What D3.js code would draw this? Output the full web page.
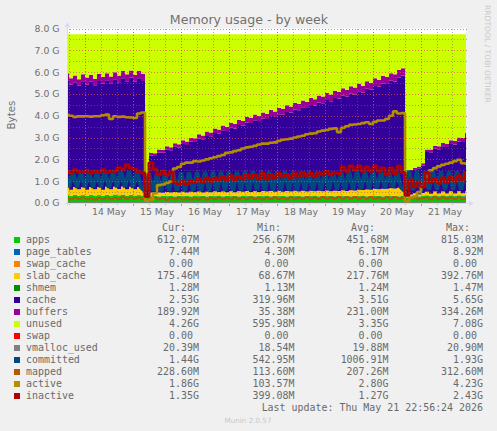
<!DOCTYPE html>
<html><head><meta charset="utf-8">
<script src="https://cdnjs.cloudflare.com/ajax/libs/d3/7.8.5/d3.min.js"></script>
<style>
html,body{margin:0;padding:0;background:#f0f0f0;overflow:hidden}
svg{display:block}
text{font-family:"DejaVu Sans",sans-serif}
.mono{font-family:"DejaVu Sans Mono",monospace;font-size:9.95px;fill:#6a6a6a}
.tick text{font-family:"DejaVu Sans",sans-serif;font-size:9.3px;fill:#6e6e6e}
</style></head><body>
<script>
// sample clock: one reading every 2 hours
const firstSample = Date.UTC(2026,4,13,14,15);
const sampleHours = 2;
const apps = [
.36,.33,.37,.34,.36,.33,.37,.34,.36,.33,
.37,.34,.38,.35,.38,.34,.37,.34,.36,.34,
.26,.31,.33,.30,.33,.31,.33,.30,.33,.31,
.33,.30,.34,.31,.33,.30,.33,.31,.34,.30,
.33,.31,.33,.30,.34,.31,.33,.30,.33,.31,
.34,.30,.33,.31,.33,.30,.34,.31,.33,.30,
.33,.31,.34,.30,.33,.31,.33,.30,.34,.31,
.33,.30,.33,.31,.34,.30,.33,.31,.33,.30,
.34,.31,.33,.30,.33,.26,.30,.32,.30,.32,
.35,.31,.35,.31,.35,.31,.35,.31,.35,.31,
.35,.31];
const pageTables = [
.007,.007,.007,.007,.007,.007,.007,.007,.007,.007,
.007,.007,.007,.007,.007,.007,.007,.007,.007,.007,
.005,.005,.005,.006,.006,.006,.006,.006,.006,.006,
.006,.006,.006,.006,.006,.006,.006,.006,.006,.006,
.006,.006,.006,.006,.006,.006,.006,.006,.006,.006,
.006,.006,.006,.006,.006,.006,.006,.006,.006,.006,
.006,.006,.006,.006,.006,.006,.006,.006,.006,.006,
.007,.007,.007,.007,.007,.007,.007,.007,.007,.007,
.008,.008,.008,.009,.009,.004,.005,.005,.005,.006,
.007,.007,.007,.007,.007,.007,.007,.007,.007,.007,
.007,.007];
const swapCache = [
0,0,0,0,0,0,0,0,0,0,0,0,0,0,0,0,0,0,0,0,
0,0,0,0,0,0,0,0,0,0,0,0,0,0,0,0,0,0,0,0,
0,0,0,0,0,0,0,0,0,0,0,0,0,0,0,0,0,0,0,0,
0,0,0,0,0,0,0,0,0,0,0,0,0,0,0,0,0,0,0,0,
0,0,0,0,0,0,0,0,0,0,0,0,0,0,0,0,0,0,0,0,
0,0];
const slabCache = [
.36,.27,.36,.28,.35,.27,.36,.28,.36,.27,
.37,.28,.36,.28,.37,.28,.37,.28,.37,.28,
.07,.16,.11,.18,.13,.19,.14,.20,.14,.20,
.15,.21,.15,.21,.15,.21,.16,.22,.16,.22,
.16,.22,.16,.23,.17,.23,.17,.23,.17,.23,
.18,.24,.18,.24,.18,.24,.18,.25,.19,.25,
.19,.25,.19,.25,.20,.26,.20,.26,.20,.27,
.21,.28,.23,.29,.25,.31,.27,.33,.29,.35,
.31,.37,.33,.39,.36,.07,.08,.12,.09,.13,
.16,.11,.17,.12,.17,.12,.18,.12,.18,.13,
.18,.17];
const shmem = [
.001,.001,.001,.001,.001,.001,.001,.001,.001,.001,
.001,.001,.001,.001,.001,.001,.001,.001,.001,.001,
.001,.001,.001,.001,.001,.001,.001,.001,.001,.001,
.001,.001,.001,.001,.001,.001,.001,.001,.001,.001,
.001,.001,.001,.001,.001,.001,.001,.001,.001,.001,
.001,.001,.001,.001,.001,.001,.001,.001,.001,.001,
.001,.001,.001,.001,.001,.001,.001,.001,.001,.001,
.001,.001,.001,.001,.001,.001,.001,.001,.001,.001,
.001,.001,.001,.001,.001,.001,.001,.001,.001,.001,
.001,.001,.001,.001,.001,.001,.001,.001,.001,.001,
.001,.001];
const cache = [
4.90,4.81,4.80,4.75,4.86,4.83,4.82,4.77,4.87,4.86,
4.88,4.86,4.92,4.90,4.96,4.95,5.00,4.94,4.98,4.97,
.32,1.70,1.71,1.83,1.84,1.94,1.94,2.07,2.07,2.19,
2.17,2.30,2.30,2.43,2.44,2.56,2.56,2.67,2.67,2.81,
2.80,2.91,2.92,3.04,3.02,3.14,3.16,3.26,3.25,3.33,
3.32,3.44,3.42,3.51,3.53,3.63,3.62,3.72,3.72,3.83,
3.83,3.93,3.92,4.05,4.04,4.14,4.13,4.25,4.24,4.33,
4.32,4.42,4.41,4.51,4.46,4.62,4.59,4.72,4.70,4.81,
4.80,4.91,4.90,5.04,5.14,.32,1.08,1.10,1.20,1.26,
1.82,1.90,1.96,2.03,2.07,2.13,2.17,2.24,2.28,2.35,
2.49,2.60];
const buffers = [
.32,.30,.31,.30,.32,.31,.32,.30,.32,.31,
.32,.31,.33,.31,.33,.32,.33,.31,.33,.32,
.04,.12,.12,.14,.13,.15,.14,.16,.15,.17,
.16,.18,.17,.19,.17,.20,.18,.21,.19,.22,
.20,.23,.21,.24,.22,.25,.23,.26,.24,.27,
.25,.28,.26,.29,.27,.30,.28,.31,.29,.31,
.29,.32,.30,.32,.30,.33,.31,.33,.31,.34,
.31,.34,.32,.34,.32,.34,.32,.35,.32,.35,
.32,.35,.33,.36,.34,.04,.05,.07,.08,.10,
.11,.12,.13,.13,.15,.15,.17,.17,.18,.18,
.19,.19];
const unused = [
1.79,2.02,1.89,2.06,1.84,1.99,1.86,2.04,1.82,1.96,
1.79,1.94,1.74,1.89,1.69,1.84,1.66,1.86,1.69,1.82,
7.04,5.44,5.46,5.28,5.30,5.14,5.18,5.00,5.04,4.86,
4.92,4.74,4.77,4.59,4.64,4.46,4.50,4.32,4.37,4.18,
4.24,4.06,4.11,3.92,3.98,3.80,3.84,3.68,3.74,3.59,
3.64,3.47,3.54,3.38,3.42,3.26,3.31,3.14,3.20,3.04,
3.09,2.92,2.98,2.81,2.86,2.69,2.76,2.59,2.64,2.48,
2.56,2.39,2.44,2.28,2.36,2.16,2.22,2.02,2.09,1.92,
1.96,1.79,1.84,1.64,1.56,7.04,6.22,6.12,6.06,5.92,
5.29,5.29,5.12,5.14,4.99,5.02,4.86,4.89,4.74,4.76,
4.52,4.46];
const swap = [
0,0,0,0,0,0,0,0,0,0,0,0,0,0,0,0,0,0,0,0,
0,0,0,0,0,0,0,0,0,0,0,0,0,0,0,0,0,0,0,0,
0,0,0,0,0,0,0,0,0,0,0,0,0,0,0,0,0,0,0,0,
0,0,0,0,0,0,0,0,0,0,0,0,0,0,0,0,0,0,0,0,
0,0,0,0,0,0,0,0,0,0,0,0,0,0,0,0,0,0,0,0,
0,0];
const vmallocUsed = [
.020,.020,.020,.020,.020,.020,.020,.020,.020,.020,
.020,.020,.020,.020,.020,.020,.020,.020,.020,.020,
.019,.019,.019,.019,.019,.019,.019,.019,.019,.019,
.019,.019,.019,.019,.019,.019,.019,.019,.019,.019,
.020,.020,.020,.020,.020,.020,.020,.020,.020,.020,
.020,.020,.020,.020,.020,.020,.020,.020,.020,.020,
.020,.020,.020,.020,.020,.020,.020,.020,.020,.020,
.020,.020,.020,.020,.020,.020,.020,.020,.020,.020,
.020,.020,.020,.020,.020,.019,.019,.019,.019,.019,
.020,.020,.020,.020,.020,.020,.020,.020,.020,.020,
.020,.020];
const committed = [
1.42,.72,1.42,.70,1.42,.72,1.42,.70,1.42,.72,
1.44,.70,1.44,.72,1.46,.72,1.46,.70,1.44,.72,
.55,1.34,.56,1.34,.55,1.36,.56,1.38,.56,1.40,
.56,1.40,.57,1.42,.56,1.42,.57,1.44,.56,1.44,
.57,1.44,.57,1.44,.58,1.45,.57,1.45,.58,1.45,
.58,1.45,.57,1.45,.58,1.45,.58,1.45,.58,1.45,
.59,1.45,.58,1.45,.59,1.45,.60,1.45,.60,1.45,
.61,1.45,.62,1.45,.64,1.45,.66,1.45,.67,1.45,
.68,1.45,.70,1.45,.72,.54,1.48,.58,1.48,.58,
1.46,.60,1.46,.60,1.45,.60,1.45,.60,1.45,.60,
1.44,.60];
const mapped = [
.22,.17,.24,.18,.25,.17,.21,.16,.23,.18,
.24,.17,.23,.18,.26,.19,.24,.20,.25,.18,
.12,.20,.24,.17,.22,.15,.23,.17,.24,.16,
.22,.16,.21,.17,.24,.16,.22,.18,.24,.17,
.23,.17,.25,.17,.23,.18,.25,.18,.23,.17,
.24,.18,.26,.18,.23,.17,.25,.19,.24,.18,
.26,.19,.24,.18,.27,.20,.25,.19,.27,.20,
.26,.20,.28,.20,.25,.19,.27,.20,.24,.18,
.26,.19,.27,.20,.24,.11,.20,.24,.17,.22,
.24,.17,.26,.18,.25,.19,.24,.18,.25,.17,
.22,.23];
const active = [
4.03,4.00,3.95,3.97,3.97,3.98,3.96,3.98,3.98,4.02,
4.05,3.85,3.98,3.95,3.96,3.93,3.92,3.90,4.10,4.15,
.10,.15,.45,.82,.85,.92,.98,1.58,1.65,1.80,
1.85,1.85,1.92,1.90,1.95,2.00,2.05,2.10,2.15,2.20,
2.30,2.32,2.38,2.42,2.50,2.55,2.58,2.62,2.68,2.72,
2.72,2.76,2.78,2.85,2.90,2.92,2.95,3.00,3.05,3.08,
3.15,3.18,3.20,3.28,3.32,3.35,3.40,3.42,3.25,3.45,
3.52,3.58,3.60,3.62,3.66,3.70,3.62,3.72,3.78,3.78,
3.85,4.00,4.20,4.10,4.12,.08,.25,.30,.50,.75,
1.22,1.50,1.60,1.68,1.75,1.80,1.85,1.92,1.98,1.82,
1.80,1.86];
const inactive = [
1.45,1.38,1.52,1.42,1.40,1.50,1.38,1.46,1.42,1.52,
1.40,1.45,1.45,1.62,1.55,1.75,1.60,1.55,1.42,1.38,
.30,1.85,1.55,1.30,1.45,1.28,1.42,.95,.85,1.00,
.85,1.00,.95,1.10,.95,1.15,1.00,1.15,1.05,1.20,
1.05,1.25,1.05,1.20,1.10,1.30,1.15,1.30,1.10,1.35,
1.10,1.30,1.15,1.35,1.20,1.30,1.15,1.35,1.20,1.40,
1.25,1.35,1.20,1.40,1.30,1.45,1.30,1.40,1.35,1.65,
1.45,1.70,1.50,1.70,1.45,1.65,1.45,1.70,1.45,1.60,
1.30,1.60,1.35,1.70,1.40,.35,1.05,.75,.95,.75,
1.40,.95,1.10,.90,1.15,.95,1.20,1.00,1.25,1.05,
1.40,1.30];

const seriesNames = ["apps","page_tables","swap_cache","slab_cache","shmem","cache","buffers","unused","swap","vmalloc_used","committed","mapped","active","inactive"];
const seriesColors = ["#00CC00","#0066B3","#FF8000","#FFCC00","#008F00","#330099","#990099","#CCFF00","#FF0000","#808080","#00487D","#B35A00","#B38F00","#B30000"];
const curValues = ["612.07M","7.44M","0.00 ","175.46M","1.28M","2.53G","189.92M","4.26G","0.00 ","20.39M","1.44G","228.60M","1.86G","1.35G"];
const minValues = ["256.67M","4.30M","0.00 ","68.67M","1.13M","319.96M","35.38M","595.98M","0.00 ","18.54M","542.95M","113.60M","103.57M","399.08M"];
const avgValues = ["451.68M","6.17M","0.00 ","217.76M","1.24M","3.51G","231.00M","3.35G","0.00 ","19.88M","1006.91M","207.26M","2.80G","1.27G"];
const maxValues = ["815.03M","8.92M","0.00 ","392.76M","1.47M","5.65G","334.26M","7.08G","0.00 ","20.90M","1.93G","312.60M","4.23G","2.43G"];
const yTicks = [0,1,2,3,4,5,6,7,8];
const yMinorTicks = [.5,1.5,2.5,3.5,4.5,5.5,6.5,7.5];
const dayLabels = [14,15,16,17,18,19,20,21];

const stackKeys = ["apps","page_tables","swap_cache","slab_cache","shmem","cache","buffers","unused","swap"];
const table = apps.map((v,i)=>({
  t:new Date(firstSample+i*sampleHours*36e5),
  apps:v,page_tables:pageTables[i],swap_cache:swapCache[i],slab_cache:slabCache[i],shmem:shmem[i],
  cache:cache[i],buffers:buffers[i],unused:unused[i],swap:swap[i],
  vmalloc_used:vmallocUsed[i],committed:committed[i],mapped:mapped[i],active:active[i],inactive:inactive[i]
}));
const color = d3.scaleOrdinal(seriesNames,seriesColors);

const W=497,H=431;
const L=67,R=466,T=28.5,B=203;
const x = d3.scaleUtc().domain([new Date(firstSample+3600e3),new Date(firstSample+3600e3+199.5*36e5)]).range([L,R]);
const y = d3.scaleLinear().domain([0,8]).range([B,T]);

const svg = d3.select("body").append("svg").attr("width",W).attr("height",H);
svg.append("rect").attr("width",W).attr("height",H).attr("fill","#f0f0f0");
svg.append("rect").attr("x",L).attr("y",T).attr("width",R-L).attr("height",B-T).attr("fill","#fff");
svg.append("clipPath").attr("id","plot").append("rect").attr("x",L).attr("y",T-2).attr("width",R-L).attr("height",B-T+2);

const plot = svg.append("g").attr("clip-path","url(#plot)");
const stack = d3.stack().keys(stackKeys)(table);
const area = d3.area().curve(d3.curveStepAfter).x(d=>x(d.data.t)).y0(d=>y(d[0])).y1(d=>y(d[1]));
plot.selectAll("path.a").data(stack).join("path").attr("class","a")
  .attr("fill",d=>color(d.key)).attr("d",area);

const lineFor = (k,curve)=>d3.line().curve(curve).x(d=>x(d.t)).y(d=>y(d[k]))(table);
const lineSpec = [["vmalloc_used",d3.curveStepAfter,1],["committed",d3.curveLinear,4.2],["mapped",d3.curveStepAfter,2],["active",d3.curveStepAfter,2.6],["inactive",d3.curveStepAfter,3]];
lineSpec.forEach(([k,c,w])=>{
  plot.append("path").attr("fill","none").attr("stroke",color(k)).attr("stroke-width",w)
    .attr("stroke-linejoin","bevel").attr("d",lineFor(k,c));
});

// grid over the marks
const grid = svg.append("g").attr("fill","none").attr("stroke-width",1).attr("shape-rendering","crispEdges");
const hours = x.ticks(d3.utcHour.every(8));
const days = x.ticks(d3.utcDay.every(1));
grid.selectAll("line.hm").data(hours).join("line").attr("x1",d=>Math.round(x(d))+.5).attr("x2",d=>Math.round(x(d))+.5)
  .attr("y1",T).attr("y2",B).attr("stroke","rgba(110,110,110,.55)").attr("stroke-dasharray","1 2");
grid.selectAll("line.ym").data(yMinorTicks).join("line").attr("x1",L).attr("x2",R+2)
  .attr("y1",d=>Math.round(y(d))+.5).attr("y2",d=>Math.round(y(d))+.5).attr("stroke","rgba(110,110,110,.55)").attr("stroke-dasharray","1 2");
grid.selectAll("line.dM").data(days).join("line").attr("x1",d=>Math.round(x(d))+.5).attr("x2",d=>Math.round(x(d))+.5)
  .attr("y1",T).attr("y2",B).attr("stroke","rgba(225,80,80,.7)").attr("stroke-dasharray","1 2");
grid.selectAll("line.yM").data(yTicks).join("line").attr("x1",L).attr("x2",R+2)
  .attr("y1",d=>Math.round(y(d))+.5).attr("y2",d=>Math.round(y(d))+.5).attr("stroke","rgba(225,80,80,.7)").attr("stroke-dasharray","1 2");

// small ticks below the axis
const under = svg.append("g").attr("shape-rendering","crispEdges");
under.selectAll("line.a").data(hours).join("line").attr("x1",d=>Math.round(x(d))+.5).attr("x2",d=>Math.round(x(d))+.5)
  .attr("y1",B).attr("y2",B+2).attr("stroke","#bbb");
under.selectAll("line.b").data(days).join("line").attr("x1",d=>Math.round(x(d))+.5).attr("x2",d=>Math.round(x(d))+.5)
  .attr("y1",B).attr("y2",B+3).attr("stroke","#e08080");

// axis lines and arrows
const arrow="#d6dcf5";
svg.append("line").attr("x1",L+.5).attr("x2",L+.5).attr("y1",24).attr("y2",B+3).attr("stroke",arrow);
svg.append("line").attr("x1",L-2).attr("x2",R+4).attr("y1",B+.5).attr("y2",B+.5).attr("stroke",arrow);
svg.append("path").attr("fill",arrow).attr("d",d3.line()([[64.5,27],[67.5,22],[70.5,27]]));
svg.append("path").attr("fill",arrow).attr("d",d3.line()([[469,200.5],[474,203.5],[469,206.5]]));

// axes (text only)
const yAxis = d3.axisLeft(y).tickValues(yTicks).tickSize(0).tickPadding(0).tickFormat(d=>d3.format(".1f")(d)+" G");
svg.append("g").attr("transform","translate(59.5,0)").call(yAxis).call(g=>g.select(".domain").remove());
const xAxis = d3.axisBottom(x).tickValues(dayLabels.map(d=>new Date(Date.UTC(2026,4,d,12)))).tickSize(0).tickPadding(0).tickFormat(d3.utcFormat("%d May"));
svg.append("g").attr("transform","translate(0,208)").call(xAxis).call(g=>g.select(".domain").remove());

// titles
svg.append("text").attr("x",249).attr("y",24).attr("text-anchor","middle").attr("font-size",12.6).attr("fill","#707070").text("Memory usage - by week");
svg.append("text").attr("transform","translate(14.5,115) rotate(-90)").attr("text-anchor","middle").attr("font-size",10.3).attr("fill","#707070").text("Bytes");
svg.append("text").attr("transform","translate(484.5,5) rotate(90)").attr("font-size",7.6).attr("fill","#c8c8c8").text("RRDTOOL / TOBI OETIKER");
svg.append("text").attr("x",248).attr("y",423).attr("text-anchor","middle").attr("font-size",7.2).attr("fill","#c8c8c8").text("Munin 2.0.57");

// legend
const rowY = i=>240+i*12;
const legend = svg.append("g");
legend.selectAll("rect").data(seriesNames).join("rect").attr("x",14).attr("y",(d,i)=>rowY(i)-3).attr("width",6).attr("height",6).attr("fill",d=>color(d));
legend.selectAll("text.n").data(seriesNames).join("text").attr("class","n mono").attr("x",26).attr("y",(d,i)=>rowY(i)+3.4).text(d=>d);
const cols = [[curValues,199,"Cur:",186],[minValues,294.5,"Min:",281],[avgValues,388.5,"Avg:",375],[maxValues,483,"Max:",470]];
cols.forEach(([vals,right,head,hx])=>{
  legend.append("text").attr("class","mono").attr("x",hx).attr("y",231.4).attr("text-anchor","end").text(head);
  const g = legend.append("g");
  g.selectAll("text").data(vals).join("text").attr("class","mono").attr("x",right).attr("y",(d,i)=>rowY(i)+3.4)
    .attr("text-anchor","end").attr("xml:space","preserve").style("white-space","pre").text(d=>d);
});
legend.append("text").attr("class","mono").attr("x",483).attr("y",411.4).attr("text-anchor","end").text("Last update: Thu May 21 22:56:24 2026");
</script>
</body></html>
